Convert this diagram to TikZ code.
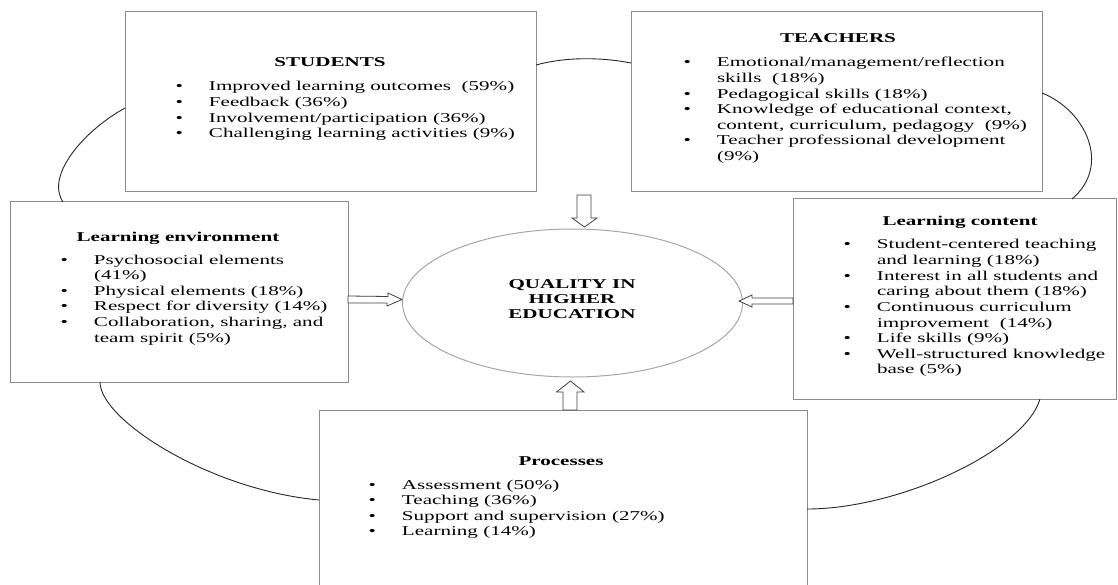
\documentclass[tikz,border=0pt]{standalone}
\usepackage{fontspec}
\setmainfont{Liberation Serif}[FakeStretch=1.56]
\usetikzlibrary{shapes.geometric,calc}
\newcommand\lbul{\makebox[33.5pt][l]{\textbullet}}
\newcommand\lind{\hspace*{33.5pt}}
\begin{document}
\begin{tikzpicture}[x=1pt,y=-1pt,
  box/.style={draw=black!45,line width=1pt,rectangle,inner sep=0pt,outer sep=0pt},
  ttl/.style={font=\fontsize{13.5}{15}\selectfont\bfseries,anchor=base,inner sep=0pt},
  lst/.style={font=\fontsize{13.5}{15.6}\selectfont,anchor=base west,inner sep=0pt},
  arcline/.style={draw=black!85,line width=0.9pt},
  blockarrow/.style={draw=black!75,fill=white,line width=0.8pt,line join=miter}]
\useasboundingbox (0,0) rectangle (1118,585);

% boxes
\node[box,minimum width=411pt,minimum height=180pt] (stu) at (330.5,102) {};
\node[box,minimum width=411pt,minimum height=180pt] (tea) at (836.5,102) {};
\node[box,minimum width=338pt,minimum height=180pt] (le) at (179,292) {};
\node[box,minimum width=323pt,minimum height=200pt] (lc) at (954.5,299) {};
\node[box,minimum width=488pt,minimum height=190pt] (pro) at (563,505) {};
\node[ellipse,draw=black!35,line width=1pt,minimum width=340pt,minimum height=148pt,inner sep=0pt] (ell) at (572.5,303) {};

% titles
\node[ttl] (stut) at (330,66.5) {STUDENTS};
\node[ttl] (teat) at (838,42.5) {TEACHERS};
\node[ttl] (let) at (178,241) {Learning environment};
\node[ttl] (lct) at (960,226) {Learning content};
\node[ttl] (prot) at (561,465) {Processes};
\node[ttl] (ellt) at (572,288) {\begin{tabular}[t]{@{}c@{}}QUALITY IN\\HIGHER\\EDUCATION\end{tabular}};

% lists
\node[lst] (stul) at (175.3,91) {\begin{tabular}[t]{@{}l@{}}
\lbul Improved learning outcomes\ \ (59\%)\\
\lbul Feedback (36\%)\\
\lbul Involvement/participation (36\%)\\
\lbul Challenging learning activities (9\%)
\end{tabular}};
\node[lst] (teal) at (683.3,67) {\begin{tabular}[t]{@{}l@{}}
\lbul Emotional/management/reflection\\
\lind skills\ \ (18\%)\\
\lbul Pedagogical skills (18\%)\\
\lbul Knowledge of educational context,\\
\lind content, curriculum, pedagogy\ \ (9\%)\\
\lbul Teacher professional development\\
\lind (9\%)
\end{tabular}};
\node[lst] (lel) at (60.3,264) {\begin{tabular}[t]{@{}l@{}}
\lbul Psychosocial elements\\
\lind (41\%)\\
\lbul Physical elements (18\%)\\
\lbul Respect for diversity (14\%)\\
\lbul Collaboration, sharing, and\\
\lind team spirit (5\%)
\end{tabular}};
\node[lst] (lcl) at (843.3,249) {\begin{tabular}[t]{@{}l@{}}
\lbul Student-centered teaching\\
\lind and learning (18\%)\\
\lbul Interest in all students and\\
\lind caring about them (18\%)\\
\lbul Continuous curriculum\\
\lind improvement\ \ (14\%)\\
\lbul Life skills (9\%)\\
\lbul Well-structured knowledge\\
\lind base (5\%)
\end{tabular}};
\node[lst] (prol) at (368.3,489) {\begin{tabular}[t]{@{}l@{}}
\lbul Assessment (50\%)\\
\lbul Teaching (36\%)\\
\lbul Support and supervision (27\%)\\
\lbul Learning (14\%)
\end{tabular}};

% cycle arcs
\draw[arcline] (stu.west |- 0,108) .. controls (85,130) and (45,175) .. (le.north -| 63,0);
\draw[arcline] (stu.east |- 0,65) .. controls (565,57) and (600,57) .. (tea.west |- 0,63);
\draw[arcline] (tea.east |- 0,93) .. controls (1085,110) and (1112,165) .. (lc.north -| 1072,0);
\draw[arcline] (lc.south -| 1040,0) .. controls (1025,450) and (900,509) .. (pro.east |- 0,509);
\draw[arcline] (le.south -| 100,0) .. controls (100,420) and (210,490) .. (pro.west |- 0,500);

% block arrows
\coordinate (dtip) at (584.5,227);
\draw[blockarrow] (dtip) -- ++(12.5,-9) -- ++(-6,0) -- ++(0,-23) -- ++(-14,0) -- ++(0,23) -- ++(-5,0) -- cycle;
\coordinate (utip) at (570.5,381);
\draw[blockarrow] (utip) -- ++(13.5,11) -- ++(-7,0) -- ++(0,18) -- ++(-14,0) -- ++(0,-18) -- ++(-6.5,0) -- cycle;
\coordinate (rtip) at (ell.west |- 0,299.5);
\draw[blockarrow] (rtip) -- ++(-14,-6.5) -- ++(0,3.5) -- (le.east |- 0,296) -- (le.east |- 0,303) -- ++(39,0) -- ++(0,3) -- cycle;
\coordinate (ltip) at (739,301);
\draw[blockarrow] (ltip) -- ++(13,-6) -- ++(0,3) -- (lc.west |- 0,298) -- (lc.west |- 0,304) -- ++(-41,0) -- ++(0,3) -- cycle;
\end{tikzpicture}
\end{document}
